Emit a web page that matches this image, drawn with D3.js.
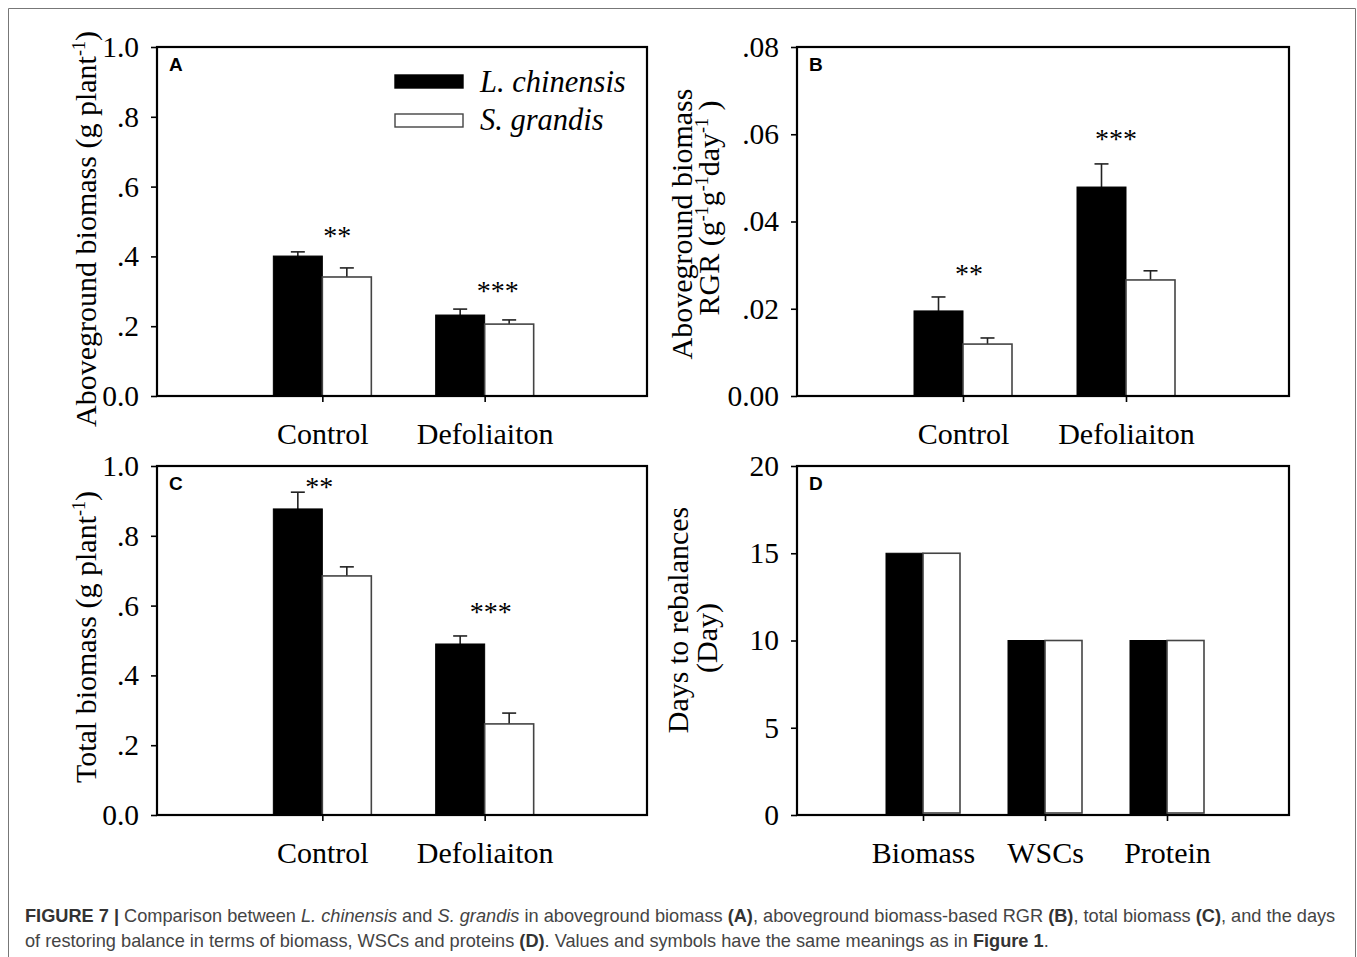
<!DOCTYPE html>
<html><head><meta charset="utf-8">
<script src="https://cdn.jsdelivr.net/npm/d3@7"></script>
<style>html,body{margin:0;padding:0;background:#fff;}svg{display:block;}</style>
</head><body>
<svg id="fig" width="1357" height="957"></svg>
<script>
// ---------- DATA ----------
const treatments = ["Control", "Defoliaiton"];
const seriesNames = ["L. chinensis", "S. grandis"];

const aLch = [0.401, 0.232], aLchErr = [0.012, 0.017];
const aSgr = [0.341, 0.206], aSgrErr = [0.026, 0.012];
const aTicks = [0, 0.2, 0.4, 0.6, 0.8, 1.0];
const aStars = ["**", "***"], aStarY = [0.433, 0.275];

const bLch = [0.0195, 0.0479], bLchErr = [0.0032, 0.0053];
const bSgr = [0.0119, 0.0266], bSgrErr = [0.0014, 0.0021];
const bTicks = [0, 0.02, 0.04, 0.06, 0.08];
const bStars = ["**", "***"], bStarY = [0.0259, 0.0569];

const cLch = [0.877, 0.490], cLchErr = [0.048, 0.023];
const cSgr = [0.685, 0.261], cSgrErr = [0.026, 0.031];
const cTicks = [0, 0.2, 0.4, 0.6, 0.8, 1.0];
const cStars = ["**", "***"], cStarY = [0.914, 0.556];

const dCats = ["Biomass", "WSCs", "Protein"];
const dLch = [15, 10, 10];
const dSgr = [15, 10, 10];
const dTicks = [0, 5, 10, 15, 20];

// ---------- DRAW ----------
const svg = d3.select("#fig");
const SERIF = "'Liberation Serif','Times New Roman',serif";
const SANS = "'Liberation Sans',Arial,sans-serif";

// outer frame
svg.append("path").attr("d", "M8.5,957 V8.5 H1355.5 V957")
  .attr("fill", "none").attr("stroke", "#777").attr("stroke-width", 1);

function fmtDec(d, zeroStr, digits) {
  if (d === 0) return zeroStr;
  return d3.format("." + digits + "f")(d).replace(/^0/, "");
}

function panel(o) {
  const g = svg.append("g");
  const x = d3.scalePoint().domain(o.cats).range([o.x0 + o.xoff, o.x1]).padding(1);
  const y = d3.scaleLinear().domain([0, o.ymax]).range([o.y1, o.y0]);
  const bw = o.bw;

  const rows = o.cats.map((c, i) => ({c, i, v1: o.s1[i], v2: o.s2[i],
    e1: o.e1 ? o.e1[i] : null, e2: o.e2 ? o.e2[i] : null}));

  const eb = [];
  rows.forEach(r => {
    if (r.e1 != null) eb.push({cx: x(r.c) - bw / 2, v: r.v1, e: r.e1});
    if (r.e2 != null) eb.push({cx: x(r.c) + bw / 2, v: r.v2, e: r.e2});
  });
  g.selectAll(".eline").data(eb).enter().append("line")
    .attr("x1", d => d.cx).attr("x2", d => d.cx)
    .attr("y1", d => y(d.v)).attr("y2", d => y(d.v + d.e))
    .attr("stroke", "#222").attr("stroke-width", 1.6);
  g.selectAll(".ecap").data(eb).enter().append("line")
    .attr("x1", d => d.cx - 7).attr("x2", d => d.cx + 7)
    .attr("y1", d => y(d.v + d.e)).attr("y2", d => y(d.v + d.e))
    .attr("stroke", "#222").attr("stroke-width", 1.6);

  g.selectAll(".b1").data(rows).enter().append("rect")
    .attr("x", d => x(d.c) - bw).attr("width", bw)
    .attr("y", d => y(d.v1)).attr("height", d => y(0) - y(d.v1))
    .attr("fill", "#000").attr("stroke", "#000").attr("stroke-width", 1);
  g.selectAll(".b2").data(rows).enter().append("rect")
    .attr("x", d => x(d.c)).attr("width", bw)
    .attr("y", d => y(d.v2)).attr("height", d => y(0) - y(d.v2) - (o.gap || 0))
    .attr("fill", "#fff").attr("stroke", "#444").attr("stroke-width", 1.6);

  // frame
  g.append("rect").attr("x", o.x0).attr("y", o.y0)
    .attr("width", o.x1 - o.x0).attr("height", o.y1 - o.y0)
    .attr("fill", "none").attr("stroke", "#000").attr("stroke-width", 2.2);

  // y axis
  const ya = d3.axisLeft(y).tickValues(o.ticks).tickSize(6).tickPadding(12)
    .tickFormat(o.fmt);
  const yg = g.append("g").attr("transform", `translate(${o.x0},0)`).call(ya);
  yg.select(".domain").remove();
  yg.selectAll("line").attr("stroke", "#000").attr("stroke-width", 1.6);
  yg.selectAll("text").attr("font-family", SERIF).attr("font-size", 29.5)
    .attr("fill", "#000");

  // x axis
  const xa = d3.axisBottom(x).tickSize(6).tickPadding(21);
  const xg = g.append("g").attr("transform", `translate(0,${o.y1})`).call(xa);
  xg.select(".domain").remove();
  xg.selectAll("line").attr("stroke", "#000").attr("stroke-width", 1.6);
  xg.selectAll("text").attr("font-family", SERIF).attr("font-size", 30)
    .attr("fill", "#000");

  // panel letter
  g.append("text").attr("x", o.x0 + 12).attr("y", o.y0 + 24)
    .attr("font-family", SANS).attr("font-weight", "bold").attr("font-size", 19)
    .text(o.letter);

  if (o.stars) {
    o.stars.forEach((s, i) => {
      g.append("text").attr("x", x(o.cats[i]) + o.starDx[i]).attr("y", y(o.starY[i]))
        .attr("text-anchor", "middle").attr("font-family", SERIF)
        .attr("font-size", 28).text(s);
    });
  }
  return g;
}

function yTitle(lines) {
  lines.forEach(L => {
    const t = svg.append("text")
      .attr("transform", `translate(${L.x},${L.y}) rotate(-90)`)
      .attr("text-anchor", "middle").attr("font-family", SERIF)
      .attr("font-size", 30).attr("fill", "#000");
    let raised = false;
    L.parts.forEach(p => {
      const sp = t.append("tspan").text(p.t);
      if (p.sup) { sp.attr("dy", raised ? 0 : -11).attr("font-size", 18); raised = true; }
      else if (raised) { sp.attr("dy", 11); raised = false; }
    });
  });
}

panel({cats: treatments, x0: 157, x1: 647, xoff: 3, y0: 47, y1: 396, ymax: 1.0, bw: 49,
  s1: aLch, s2: aSgr, e1: aLchErr, e2: aSgrErr, ticks: aTicks,
  fmt: d => fmtDec(d, "0.0", 1), letter: "A",
  stars: aStars, starY: aStarY, starDx: [15, 13]});

panel({cats: treatments, x0: 797, x1: 1289, xoff: 3, y0: 47, y1: 396, ymax: 0.08, bw: 49,
  s1: bLch, s2: bSgr, e1: bLchErr, e2: bSgrErr, ticks: bTicks,
  fmt: d => fmtDec(d, "0.00", 2), letter: "B",
  stars: bStars, starY: bStarY, starDx: [6, -10]});

panel({cats: treatments, x0: 157, x1: 647, xoff: 3, y0: 466, y1: 815, ymax: 1.0, bw: 49,
  s1: cLch, s2: cSgr, e1: cLchErr, e2: cSgrErr, ticks: cTicks,
  fmt: d => fmtDec(d, "0.0", 1), letter: "C",
  stars: cStars, starY: cStarY, starDx: [-3, 6]});

panel({cats: dCats, x0: 797, x1: 1289, xoff: 4, y0: 466, y1: 815, ymax: 20, bw: 37,
  s1: dLch, s2: dSgr, ticks: dTicks, gap: 2,
  fmt: d => String(d), letter: "D"});

// axis titles
yTitle([{x: 96, y: 229, parts: [{t: "Aboveground biomass (g plant"}, {t: "-1", sup: 1}, {t: ")"}]}]);
yTitle([{x: 96, y: 637, parts: [{t: "Total biomass (g plant"}, {t: "-1", sup: 1}, {t: ")"}]}]);
yTitle([{x: 692, y: 224, parts: [{t: "Aboveground biomass"}]},
        {x: 719, y: 208, parts: [{t: "RGR (g"}, {t: "-1", sup: 1}, {t: "g"}, {t: "-1", sup: 1}, {t: "day"}, {t: "-1", sup: 1}, {t: " )"}]}]);
yTitle([{x: 688, y: 620, parts: [{t: "Days to rebalances"}]},
        {x: 717, y: 638, parts: [{t: "(Day)"}]}]);

// legend
const leg = svg.append("g");
seriesNames.forEach((n, i) => {
  leg.append("rect").attr("x", 395).attr("y", 75 + i * 39).attr("width", 68).attr("height", 13)
    .attr("fill", i === 0 ? "#000" : "#fff").attr("stroke", i === 0 ? "#000" : "#444")
    .attr("stroke-width", 1.4);
  leg.append("text").attr("x", 480).attr("y", 92 + i * 38)
    .attr("font-family", SERIF).attr("font-style", "italic").attr("font-size", 30.5)
    .text(n);
});

// caption
const capLines = [
  [["FIGURE 7 | ", "b"], ["Comparison between ", ""], ["L. chinensis", "i"], [" and ", ""], ["S. grandis", "i"],
   [" in aboveground biomass ", ""], ["(A)", "b"], [", aboveground biomass-based RGR ", ""], ["(B)", "b"],
   [", total biomass ", ""], ["(C)", "b"], [", and the days", ""]],
  [["of restoring balance in terms of biomass, WSCs and proteins ", ""], ["(D)", "b"],
   [". Values and symbols have the same meanings as in ", ""], ["Figure 1", "b"], [".", ""]]
];
capLines.forEach((line, li) => {
  const t = svg.append("text").attr("x", 25).attr("y", 922 + li * 25)
    .attr("font-family", SANS).attr("font-size", 18.2).attr("fill", "#444");
  line.forEach(([s, st]) => {
    const sp = t.append("tspan").text(s);
    if (st === "b") sp.attr("font-weight", "bold").attr("fill", "#333");
    if (st === "i") sp.attr("font-style", "italic");
  });
});
</script>
</body></html>
